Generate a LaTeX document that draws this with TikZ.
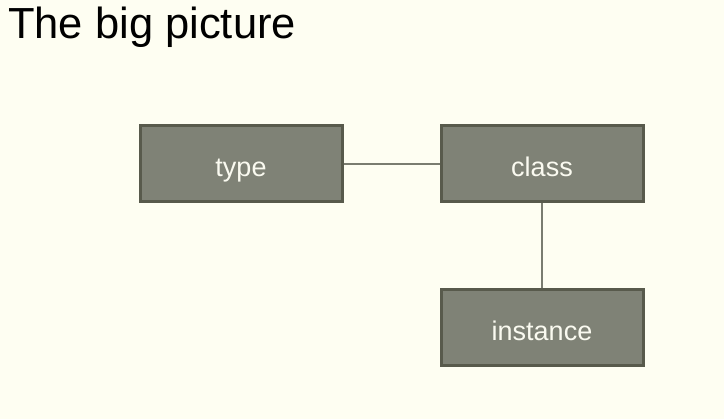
\documentclass[tikz,border=0pt]{standalone}
\usepackage{fontspec}
\setmainfont{Liberation Sans}
\definecolor{bg}{HTML}{FEFEF2}
\definecolor{boxfill}{HTML}{7F8276}
\definecolor{boxline}{HTML}{585A4C}
\definecolor{txt}{HTML}{FAFAF0}
\definecolor{conn}{HTML}{7A7C70}
\begin{document}
\begin{tikzpicture}[x=1pt,y=-1pt,
  concept/.style={draw=boxline,fill=boxfill,line width=3pt,minimum width=202pt,minimum height=76pt,inner sep=0pt,text height=26pt,text depth=0pt,text=txt,font=\fontsize{27}{30}\selectfont},
  link/.style={draw=conn,line width=2pt}]
\fill[bg] (0,0) rectangle (724,419);
\useasboundingbox (0,0) rectangle (724,419);
\node[anchor=base west,inner sep=0pt,font=\fontsize{43.5}{48}\selectfont] (title) at (8,39) {The big picture};
\node[concept] (type) at (241,164) {type};
\node[concept] (class) at (542,164) {class};
\node[concept] (instance) at (542,328) {instance};
\draw[link] (type.east) -- (class.west);
\draw[link] (class.south) -- (instance.north);
\end{tikzpicture}
\end{document}
